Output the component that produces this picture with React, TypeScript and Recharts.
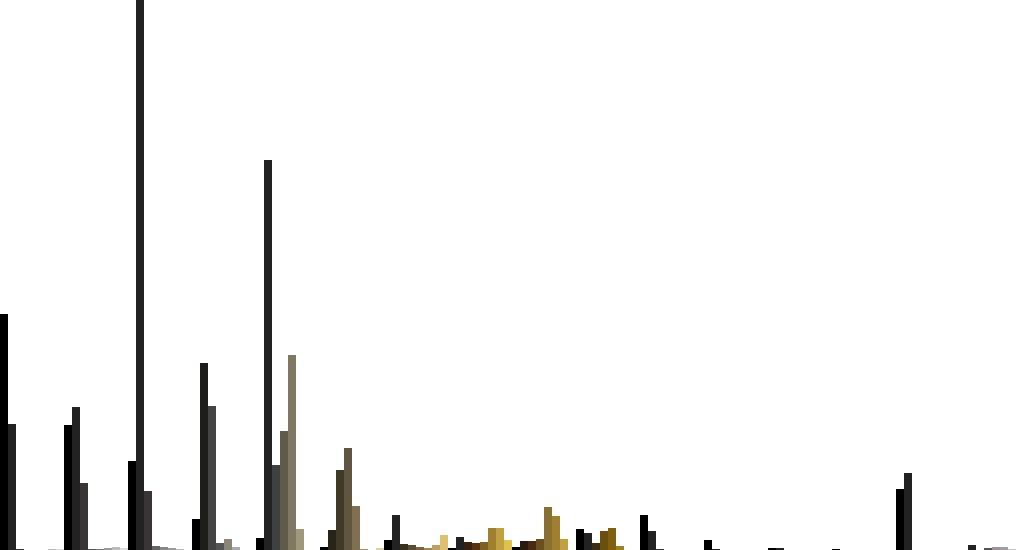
import React from 'react';
import { BarChart, Bar, XAxis, YAxis, Cell } from 'recharts';

const categories = ['G1','G2','G3','G4','G5','G6','G7','G8','G9','G10','G11','G12','G13','G14','G15','G16'];

const s0 = [236, 125, 89, 31, 12, 3, 10, 2, 3, 21, 35, 10, 2, 1, 61, 0];
const s1 = [126, 143, 550, 187, 390, 20, 35, 13, 9, 17, 19, 1, 2, 0, 77, 5];
const s2 = [1, 67, 59, 144, 85, 80, 6, 8, 9, 7, 1, 0, 0, 0, 0, 0];
const s3 = [0, 1, 4, 7, 119, 102, 5, 7, 11, 19, 0, 0, 0, 0, 0, 2];
const s4 = [0, 1, 3, 11, 195, 44, 3, 8, 43, 22, 0, 0, 0, 0, 0, 3];
const s5 = [0, 2, 2, 3, 21, 1, 2, 22, 34, 4, 0, 0, 0, 0, 0, 3];
const s6 = [1, 3, 1, 0, 0, 0, 5, 22, 11, 0, 0, 0, 0, 0, 0, 1];
const s7 = [1, 2, 0, 0, 0, 2, 15, 10, 0, 0, 0, 0, 0, 0, 0, 0];

const grays = ['#000000', '#222222', '#333333', '#555555', '#777777', '#999999', '#bbbbbb', '#dddddd'];
const groupColors = [
  grays,
  ['#000000', '#222222', '#3c3434', '#555555', '#777777', '#999999', '#bbbbbb', '#dddddd'],
  ['#000000', '#222222', '#3c3434', '#666666', '#888888', '#999999', '#bbbbbb', '#dddddd'],
  ['#000000', '#1e1d1a', '#444444', '#555555', '#8a8577', '#aaaaaa', '#cccccc', '#eeeeee'],
  ['#000000', '#222222', '#404040', '#5f5a4a', '#807860', '#a09878', '#c0b890', '#e0d8b0'],
  ['#000000', '#2a2418', '#3f3a28', '#5f5540', '#807050', '#a09060', '#c0b070', '#e0d0a0'],
  ['#000000', '#222222', '#3a3020', '#5a4a30', '#806040', '#a08850', '#c0a060', '#e0c070'],
  ['#000000', '#222222', '#3a2010', '#5a3010', '#806020', '#a08030', '#c0a040', '#e0c050'],
  ['#000000', '#2a1a10', '#4a2a10', '#6a5020', '#8a7030', '#a08030', '#c0a040', '#e0c050'],
  ['#000000', '#222222', '#3a3010', '#6a5010', '#806010', '#a08020', '#c0a030', '#e0c040'],
  grays,
  grays,
  grays,
  grays,
  grays,
  ['#000000', '#222222', '#444444', '#555555', '#a09098', '#a0a0a0', '#c0c0c0', '#dddddd'],
];

const seriesKeys = ['s0', 's1', 's2', 's3', 's4', 's5', 's6', 's7'];
const seriesValues = [s0, s1, s2, s3, s4, s5, s6, s7];

export default function App() {
  const data = categories.map((name, i) => {
    const row: Record<string, string | number> = { name };
    seriesKeys.forEach((k, j) => {
      row[k] = seriesValues[j][i];
    });
    return row;
  });
  return (
    <div style={{ position: 'absolute', left: 0, top: 0, width: 1024, height: 550, background: '#ffffff' }}>
      <BarChart
        width={1024}
        height={550}
        data={data}
        margin={{ top: 0, right: 0, bottom: 0, left: 0 }}
        barCategoryGap={0}
        barGap={0}
      >
        <XAxis dataKey="name" hide />
        <YAxis hide domain={[0, 550]} allowDataOverflow />
        {seriesKeys.map((k, j) => (
          <Bar key={k} dataKey={k} isAnimationActive={false}>
            {data.map((_, i) => (
              <Cell key={`c-${i}`} fill={groupColors[i][j]} />
            ))}
          </Bar>
        ))}
      </BarChart>
    </div>
  );
}
